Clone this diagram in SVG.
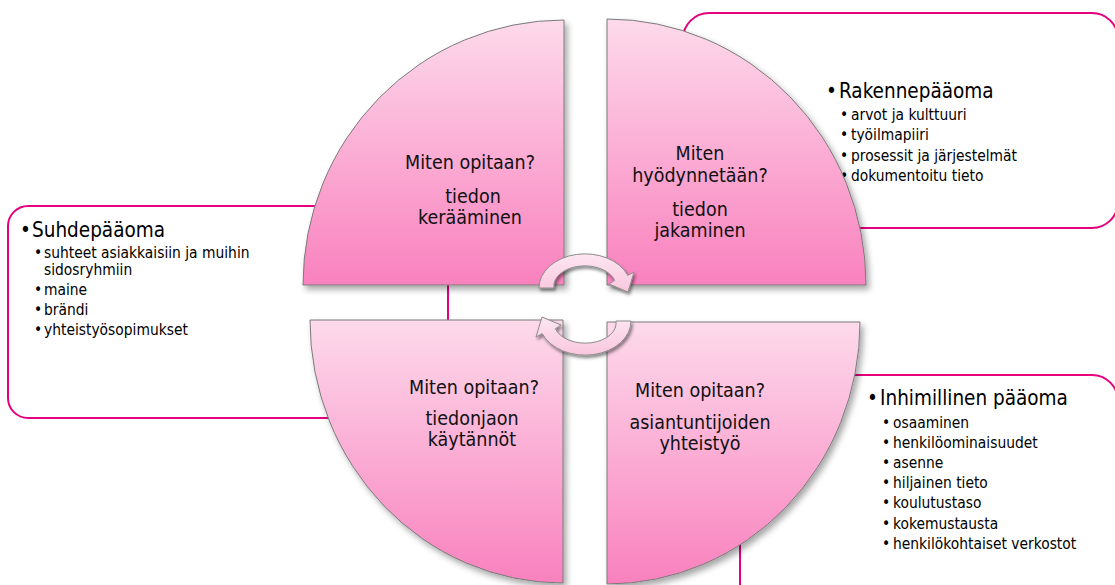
<svg xmlns="http://www.w3.org/2000/svg" width="1115" height="585" viewBox="0 0 1115 585">
<defs>
<linearGradient id="qg" x1="0" y1="0" x2="0" y2="1">
<stop offset="0" stop-color="#fddaeb"/>
<stop offset="1" stop-color="#f981be"/>
</linearGradient>
<linearGradient id="ag" x1="0" y1="0" x2="0" y2="1">
<stop offset="0" stop-color="#fde6f1"/>
<stop offset="1" stop-color="#f9c6de"/>
</linearGradient>
<filter id="sh" x="-10%" y="-10%" width="125%" height="125%">
<feDropShadow dx="3" dy="4" stdDeviation="3" flood-color="#000" flood-opacity="0.35"/>
</filter>
<filter id="ash" x="-20%" y="-20%" width="150%" height="150%">
<feDropShadow dx="1.5" dy="2.5" stdDeviation="1.5" flood-color="#000" flood-opacity="0.45"/>
</filter>
</defs>
<style>
.box{fill:#fff;stroke:#e6007e;stroke-width:2}
.q{fill:url(#qg);stroke:#7a7a7a;stroke-width:1;filter:url(#sh)}
.arr{fill:url(#ag);stroke:#8c8c8c;stroke-width:1;filter:url(#ash)}
.ql{font-family:"DejaVu Sans Condensed","DejaVu Sans",sans-serif;font-stretch:condensed;font-size:19.5px;fill:#111;text-anchor:middle}
.h{font-family:"DejaVu Sans Condensed","DejaVu Sans",sans-serif;font-stretch:condensed;font-size:20.5px;fill:#000}
.s{font-family:"DejaVu Sans Condensed","DejaVu Sans",sans-serif;font-stretch:condensed;font-size:15.4px;fill:#000}
</style>
<g id="rakennepaaoma">
<rect class="box" x="683" y="13" width="435" height="215" rx="26"/>
<text class="h" x="826" y="98">•</text><text class="h" x="839" y="98">Rakennepääoma</text>
<text class="s" x="840" y="120">•</text><text class="s" x="851" y="120">arvot ja kulttuuri</text>
<text class="s" x="840" y="140">•</text><text class="s" x="851" y="140">työilmapiiri</text>
<text class="s" x="840" y="161">•</text><text class="s" x="851" y="161">prosessit ja järjestelmät</text>
<text class="s" x="840" y="181">•</text><text class="s" x="851" y="181">dokumentoitu tieto</text>
</g>
<g id="suhdepaaoma">
<rect class="box" x="8" y="206" width="440" height="212" rx="20"/>
<text class="h" x="20" y="237">•</text><text class="h" x="32" y="237">Suhdepääoma</text>
<text class="s" x="34" y="258">•</text><text class="s" x="44" y="258">suhteet asiakkaisiin ja muihin</text>
<text class="s" x="44" y="275">sidosryhmiin</text>
<text class="s" x="34" y="295">•</text><text class="s" x="44" y="295">maine</text>
<text class="s" x="34" y="315">•</text><text class="s" x="44" y="315">brändi</text>
<text class="s" x="34" y="335">•</text><text class="s" x="44" y="335">yhteistyösopimukset</text>
</g>
<g id="inhimillinen">
<rect class="box" x="740" y="375" width="378" height="260" rx="26"/>
<text class="h" x="867" y="405">•</text><text class="h" x="880" y="405">Inhimillinen pääoma</text>
<text class="s" x="882" y="428">•</text><text class="s" x="893" y="428">osaaminen</text>
<text class="s" x="882" y="448">•</text><text class="s" x="893" y="448">henkilöominaisuudet</text>
<text class="s" x="882" y="468">•</text><text class="s" x="893" y="468">asenne</text>
<text class="s" x="882" y="488">•</text><text class="s" x="893" y="488">hiljainen tieto</text>
<text class="s" x="882" y="508">•</text><text class="s" x="893" y="508">koulutustaso</text>
<text class="s" x="882" y="529">•</text><text class="s" x="893" y="529">kokemustausta</text>
<text class="s" x="882" y="549">•</text><text class="s" x="893" y="549">henkilökohtaiset verkostot</text>
</g>
<g id="q-tl">
<path class="q" d="M564 285 L303 285 A261 265 0 0 1 564 20 Z"/>
<text class="ql" x="470" y="169">Miten opitaan?</text>
<text class="ql" x="473" y="203">tiedon</text>
<text class="ql" x="470" y="224">kerääminen</text>
</g>
<g id="q-tr">
<path class="q" d="M607 285 L607 19 A259 266 0 0 1 866 285 Z"/>
<text class="ql" x="700" y="160">Miten</text>
<text class="ql" x="700" y="182">hyödynnetään?</text>
<text class="ql" x="700" y="216">tiedon</text>
<text class="ql" x="700" y="237">jakaminen</text>
</g>
<g id="q-bl">
<path class="q" d="M563 320 L563 583 A253 263 0 0 1 310 320 Z"/>
<text class="ql" x="474" y="394">Miten opitaan?</text>
<text class="ql" x="472" y="425">tiedonjaon</text>
<text class="ql" x="472" y="446">käytännöt</text>
</g>
<g id="q-br">
<path class="q" d="M607 322 L860 322 A253 262 0 0 1 607 584 Z"/>
<text class="ql" x="700" y="397">Miten opitaan?</text>
<text class="ql" x="700" y="429">asiantuntijoiden</text>
<text class="ql" x="700" y="450">yhteistyö</text>
</g>
<g id="connectors">
<path class="arr" d="M539 288 A46 34 0 0 1 627.8 275.4 L634 272 L628 292 L609 284 L614.6 280.3 A31 20 0 0 0 554 288 Z"/>
<path class="arr" d="M631 321 A46 34 0 0 1 542.2 333.6 L536 337 L542 317 L561 325 L555.4 328.7 A31 20 0 0 0 616 321 Z"/>
</g>
</svg>
